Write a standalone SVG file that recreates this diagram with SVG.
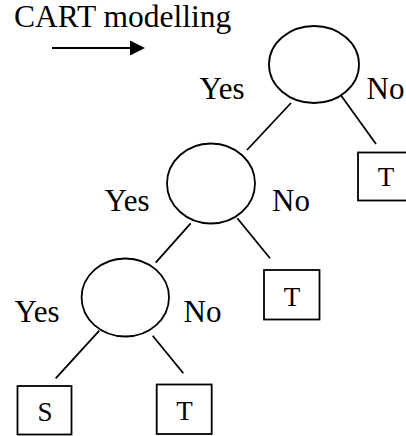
<svg xmlns="http://www.w3.org/2000/svg" width="406" height="436" viewBox="0 0 406 436">
  <style>
    .lbl { font-family: "Liberation Serif", "Times New Roman", serif; font-size: 31px; fill: #000; }
    .title { font-family: "Liberation Serif", "Times New Roman", serif; font-size: 31.5px; fill: #000; }
    .leaf-text { font-family: "Liberation Serif", "Times New Roman", serif; font-size: 27px; fill: #000; text-anchor: middle; }
    .split { fill: #fff; stroke: #000; stroke-width: 1.8; }
    .leaf { fill: #fff; stroke: #000; stroke-width: 1.8; }
    .edge { stroke: #000; stroke-width: 1.8; fill: none; }
  </style>
  <rect width="406" height="436" fill="#fff"/>

  <!-- heading and direction arrow -->
  <g id="title">
    <text class="title" x="14" y="27">CART modelling</text>
    <line x1="52" y1="48" x2="132" y2="48" stroke="#000" stroke-width="2"/>
    <polygon points="130,40.5 145,48 130,55.5" fill="#000"/>
  </g>

  <!-- branches -->
  <g id="connectors">
    <line class="edge" x1="291" y1="103" x2="247" y2="150"/>
    <line class="edge" x1="340" y1="94" x2="376" y2="144"/>
    <line class="edge" x1="190.7" y1="223.3" x2="155.7" y2="262.7"/>
    <line class="edge" x1="237.3" y1="218.3" x2="270" y2="258.3"/>
    <line class="edge" x1="99.3" y1="330.7" x2="55.7" y2="378.3"/>
    <line class="edge" x1="152.7" y1="335.7" x2="183.3" y2="373.3"/>
  </g>

  <!-- split nodes -->
  <g id="split1">
    <ellipse class="split" cx="314" cy="64.5" rx="45" ry="38.5"/>
    <text class="lbl" x="199.5" y="98.5">Yes</text>
    <text class="lbl" x="366.5" y="99">No</text>
  </g>
  <g id="split2">
    <ellipse class="split" cx="211" cy="183.5" rx="44" ry="40"/>
    <text class="lbl" x="104.5" y="211">Yes</text>
    <text class="lbl" x="272" y="211">No</text>
  </g>
  <g id="split3">
    <ellipse class="split" cx="125.3" cy="297.5" rx="43.7" ry="39"/>
    <text class="lbl" x="14.5" y="322">Yes</text>
    <text class="lbl" x="183.5" y="322">No</text>
  </g>

  <!-- terminal nodes -->
  <g id="leaf1">
    <rect class="leaf" x="358" y="152.5" width="56" height="48"/>
    <text class="leaf-text" x="386" y="186">T</text>
  </g>
  <g id="leaf2">
    <rect class="leaf" x="264" y="270" width="55.5" height="49.5"/>
    <text class="leaf-text" x="292" y="305.5">T</text>
  </g>
  <g id="leaf3">
    <rect class="leaf" x="17.5" y="386" width="54" height="48.5"/>
    <text class="leaf-text" x="45" y="421">S</text>
  </g>
  <g id="leaf4">
    <rect class="leaf" x="156.7" y="384.5" width="55" height="49.5"/>
    <text class="leaf-text" x="184.5" y="419.5">T</text>
  </g>
</svg>
